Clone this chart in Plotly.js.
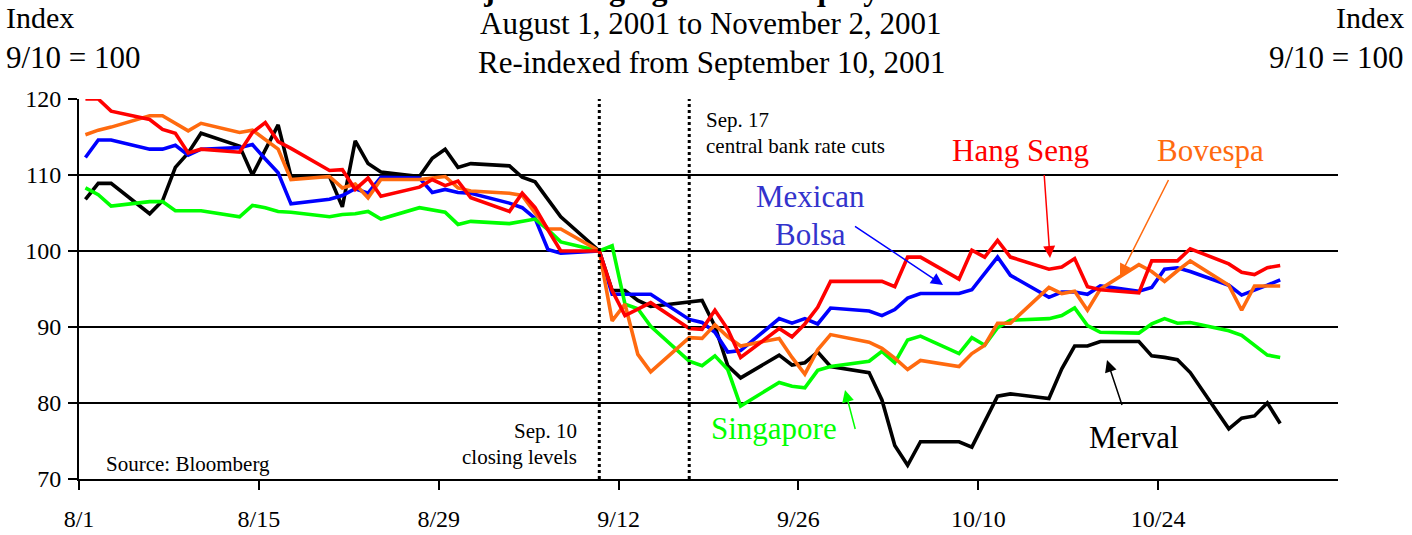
<!DOCTYPE html>
<html>
<head>
<meta charset="utf-8">
<script src="https://cdn.plot.ly/plotly-3.0.1.min.js"></script>
<style>html,body{margin:0;padding:0;background:#fff;}#chart{width:1412px;height:535px;}</style>
</head>
<body>
<div id="chart"></div>
<script>
// Trading days, Aug 1 2001 - Nov 2 2001
const dates = [
 '2001-08-01','2001-08-02','2001-08-03','2001-08-06','2001-08-07','2001-08-08','2001-08-09','2001-08-10',
 '2001-08-13','2001-08-14','2001-08-15','2001-08-16','2001-08-17','2001-08-20','2001-08-21','2001-08-22',
 '2001-08-23','2001-08-24','2001-08-27','2001-08-28','2001-08-29','2001-08-30','2001-08-31','2001-09-03',
 '2001-09-04','2001-09-05','2001-09-06','2001-09-07','2001-09-10','2001-09-11','2001-09-12','2001-09-13',
 '2001-09-14','2001-09-17','2001-09-18','2001-09-19','2001-09-20','2001-09-21','2001-09-24','2001-09-25',
 '2001-09-26','2001-09-27','2001-09-28','2001-10-01','2001-10-02','2001-10-03','2001-10-04','2001-10-05',
 '2001-10-08','2001-10-09','2001-10-10','2001-10-11','2001-10-12','2001-10-15','2001-10-16','2001-10-17',
 '2001-10-18','2001-10-19','2001-10-22','2001-10-23','2001-10-24','2001-10-25','2001-10-26','2001-10-29',
 '2001-10-30','2001-10-31','2001-11-01','2001-11-02'
];

const hangSeng = [
 120.0,120.0,118.4,117.3,116.0,115.5,112.9,113.4,
 113.0,115.6,116.9,114.4,113.5,110.6,110.7,108.1,
 109.6,107.2,108.4,109.4,108.6,109.2,107.0,105.2,
 107.6,105.7,102.8,100.0,100.0,94.8,91.5,92.3,
 93.2,89.8,89.7,92.2,89.7,86.0,89.8,88.7,
 90.4,92.6,96.0,96.0,96.0,95.3,99.2,99.2,
 96.3,100.1,99.2,101.4,99.2,97.6,97.9,99.0,
 95.3,94.9,94.5,98.7,98.7,98.7,100.3,98.3,
 97.2,96.9,97.8,98.1
];

const mexicanBolsa = [
 112.3,114.6,114.6,113.4,113.4,113.9,112.6,113.4,
 113.6,114.0,112.1,110.3,106.2,106.8,107.3,108.2,
 107.6,109.7,109.6,107.7,108.1,107.7,107.6,106.3,
 105.7,104.3,100.2,99.7,100.0,94.3,94.3,94.3,
 94.3,91.0,90.6,89.3,86.7,86.9,91.1,90.5,
 91.1,90.4,92.5,92.1,91.5,92.3,93.8,94.4,
 94.4,94.9,97.1,99.2,96.8,93.9,94.6,94.6,
 94.3,95.4,94.7,95.2,97.6,97.8,97.3,95.5,
 94.2,94.8,95.5,96.2
];

const bovespa = [
 115.3,115.9,116.3,117.8,117.8,116.8,115.8,116.8,
 115.6,115.9,114.6,113.4,109.4,109.8,108.3,108.8,
 107.0,109.4,109.4,109.6,109.8,108.3,107.9,107.6,
 107.3,105.0,102.9,102.9,100.0,90.8,93.0,86.4,
 84.1,88.6,88.5,90.3,88.7,87.5,88.5,86.0,
 83.8,87.0,89.0,88.0,87.2,85.9,84.4,85.6,
 84.8,86.5,87.6,90.5,90.5,95.2,94.4,94.7,
 92.2,95.0,98.2,97.3,96.0,97.4,98.7,95.5,
 92.2,95.4,95.4,95.4
];

const singapore = [
 108.3,107.4,105.9,106.5,106.5,105.3,105.3,105.3,
 104.5,106.0,105.7,105.2,105.1,104.5,104.8,104.9,
 105.2,104.2,105.7,105.4,105.1,103.5,103.9,103.6,
 103.9,104.2,102.8,101.2,100.0,100.7,93.0,92.4,
 90.1,85.5,84.9,86.2,84.4,79.6,82.7,82.2,
 82.0,84.3,84.8,85.5,86.8,85.3,88.3,88.8,
 86.5,88.6,87.6,89.9,90.9,91.1,91.5,92.5,
 90.2,89.3,89.2,90.4,91.1,90.5,90.6,89.5,
 88.9,87.6,86.3,86.0
];

const merval = [
 106.8,108.9,108.9,104.9,106.6,111.0,112.9,115.5,
 113.8,110.0,113.3,116.6,109.8,109.8,105.8,114.5,
 111.5,110.4,109.8,112.2,113.4,111.0,111.5,111.2,
 109.7,109.1,106.8,104.5,100.0,94.8,94.8,93.5,
 92.7,93.3,93.5,90.1,84.9,83.3,86.3,85.0,
 85.3,86.7,84.8,84.0,80.4,74.4,71.8,74.9,
 74.9,74.2,77.6,80.9,81.2,80.6,84.5,87.5,
 87.5,88.1,88.1,86.2,86.0,85.7,84.0,76.6,
 78.0,78.3,80.0,77.3
];

const tickDates = ['2001-08-01','2001-08-15','2001-08-29','2001-09-12','2001-09-26','2001-10-10','2001-10-24'];
const tickLabels = ['8/1','8/15','8/29','9/12','9/26','10/10','10/24'];
const yTicks = [70, 80, 90, 100, 110, 120];

const FONT = 'Liberation Serif, Times New Roman, serif';
const DAY = 86400000;

function line(name, y, color) {
  return {
    type: 'scatter', mode: 'lines', name: name,
    x: dates, y: y,
    xperiod: DAY, xperiodalignment: 'middle',
    line: {color: color, width: 3.6},
    hoverinfo: 'skip'
  };
}

const traces = [
  line('Merval', merval, '#000000'),
  line('Mexican Bolsa', mexicanBolsa, '#0000FF'),
  line('Singapore', singapore, '#00FF00'),
  line('Bovespa', bovespa, '#FF6A0F'),
  line('Hang Seng', hangSeng, '#FF0000')
];

// pixel helpers for annotation placement (plot area: x 79..1338, y 99..479)
const px = v => (v - 79) / 1259;
const py = v => (479 - v) / 380;

function txt(text, x, y, xanchor, size, color, extra) {
  return Object.assign({
    text: text, xref: 'paper', yref: 'paper', x: px(x), y: py(y),
    xanchor: xanchor, yanchor: 'middle', showarrow: false,
    font: {family: FONT, size: size, color: color}
  }, extra || {});
}
function arrow(hx, hy, tx, ty, color) {
  return {
    text: ' ', xref: 'paper', yref: 'paper', x: px(hx), y: py(hy),
    ax: tx - hx, ay: ty - hy, showarrow: true,
    arrowhead: 2, arrowsize: 1.6, arrowwidth: 1.5, arrowcolor: color, standoff: 0,
    font: {size: 2}
  };
}

const annotations = [
  txt('<b>Major Emerging Market Equity Indices</b>', 711, 8, 'center', 32, '#000', {yanchor: 'bottom', borderpad: 0}),
  txt('August 1, 2001 to November 2, 2001', 711, 23, 'center', 31, '#000'),
  txt('Re-indexed from September 10, 2001', 711, 62, 'center', 31, '#000'),
  txt('Index', 4, 18, 'left', 30, '#000'),
  txt('9/10 = 100', 4, 57, 'left', 31, '#000'),
  txt('Index', 1406, 18, 'right', 30, '#000'),
  txt('9/10 = 100', 1406, 57, 'right', 31, '#000'),
  txt('Sep. 17', 704, 120, 'left', 21, '#000'),
  txt('central bank rate cuts', 704, 146, 'left', 21, '#000'),
  txt('Sep. 10', 579, 431, 'right', 21, '#000'),
  txt('closing levels', 579, 457, 'right', 21, '#000'),
  txt('Source: Bloomberg', 104, 464, 'left', 21, '#000'),
  txt('Hang Seng', 1020, 150, 'center', 31, '#FF0000'),
  txt('Bovespa', 1210, 150, 'center', 31, '#FF6A0F'),
  txt('Mexican', 810, 196, 'center', 31, '#3333CC'),
  txt('Bolsa', 810, 234, 'center', 31, '#3333CC'),
  txt('Singapore', 774, 428, 'center', 31, '#00FF00'),
  txt('Merval', 1134, 437, 'center', 31, '#000'),
  arrow(1050, 258, 1044, 172, '#FF0000'),
  arrow(1120, 276, 1170, 177, '#FF6A0F'),
  arrow(943, 285, 853, 225, '#0000FF'),
  arrow(845, 390, 856, 432, '#00FF00'),
  arrow(1107, 360, 1123, 408, '#000000')
];

const shapes = [
  {type: 'line', xref: 'x', yref: 'paper', x0: '2001-09-10 12:00', x1: '2001-09-10 12:00', y0: 0, y1: 1,
   line: {color: '#000', width: 3, dash: '3px,3px'}},
  {type: 'line', xref: 'x', yref: 'paper', x0: '2001-09-17 12:00', x1: '2001-09-17 12:00', y0: 0, y1: 1,
   line: {color: '#000', width: 3, dash: '3px,3px'}}
];

const yAxisBase = {
  range: [70, 120], tickvals: yTicks, ticks: 'outside', ticklen: 9, tickwidth: 2, tickcolor: '#000',
  showline: true, linecolor: '#000', linewidth: 2, zeroline: false,
  tickfont: {family: FONT, size: 24, color: '#000'}, fixedrange: true
};

const layout = {
  width: 1412, height: 535,
  margin: {l: 79, r: 74, t: 99, b: 56},
  paper_bgcolor: '#fff', plot_bgcolor: '#fff',
  showlegend: false,
  xaxis: {
    type: 'date', range: ['2001-08-01', '2001-11-07'],
    tickvals: tickDates, ticktext: tickLabels,
    ticks: 'outside', ticklen: 9, tickwidth: 2, tickcolor: '#000',
    showline: true, linecolor: '#000', linewidth: 2, showgrid: false, zeroline: false,
    tickfont: {family: FONT, size: 24, color: '#000'}, ticklabelstandoff: 8
  },
  yaxis: Object.assign({}, yAxisBase, {showgrid: true, gridcolor: '#000', gridwidth: 1.5, ticklabelstandoff: 2}),
  yaxis2: Object.assign({}, yAxisBase, {overlaying: 'y', side: 'right', anchor: 'x', showgrid: false, ticklabelstandoff: 12}),
  annotations: annotations,
  shapes: shapes
};

Plotly.newPlot('chart', traces, layout, {staticPlot: true, displayModeBar: false});
</script>
</body>
</html>
